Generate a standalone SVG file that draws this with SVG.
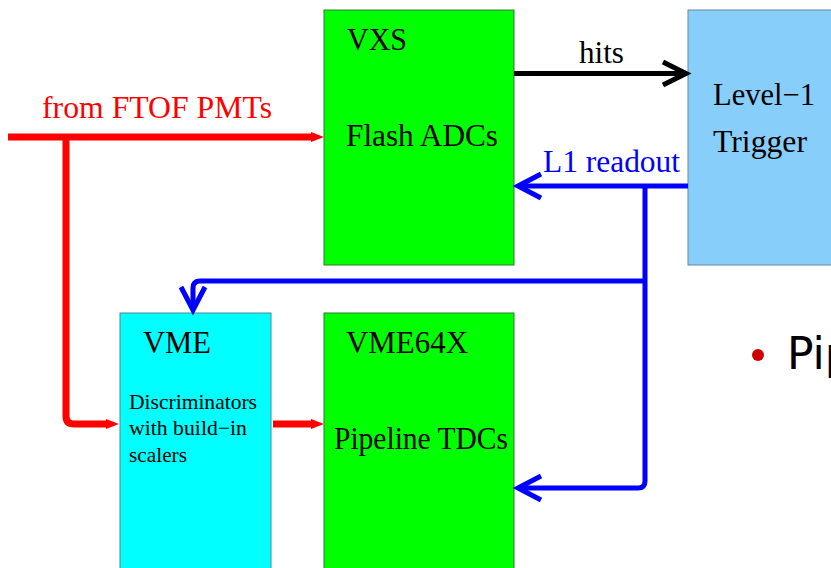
<svg xmlns="http://www.w3.org/2000/svg" width="831" height="568" viewBox="0 0 831 568">
<style>
  .t { font-family: "Liberation Serif", "Times New Roman", serif; font-size: 31px; fill: #000; }
  .s { font-family: "Liberation Serif", "Times New Roman", serif; font-size: 21px; fill: #000; }
  .green { fill: #00ff00; stroke: #2e7a2e; stroke-width: 1; }
  .cyan { fill: #00ffff; stroke: #4a8796; stroke-width: 1; }
  .lblue { fill: #87cefa; stroke: #6b8797; stroke-width: 1; }
  .red { fill: none; stroke: #ff0000; stroke-width: 7; }
  .blue { fill: none; stroke: #0000ff; stroke-width: 5; }
  .black { fill: none; stroke: #000; stroke-width: 5; }
</style>
<defs>
  <marker id="chevBlue" markerUnits="userSpaceOnUse" markerWidth="40" markerHeight="40" refX="0" refY="0" orient="auto" overflow="visible">
    <path d="M-23,-12 L0,0 L-23,12" fill="none" stroke="#0000ff" stroke-width="5" stroke-linejoin="miter"/>
  </marker>
  <marker id="chevBlack" markerUnits="userSpaceOnUse" markerWidth="40" markerHeight="40" refX="0" refY="0" orient="auto" overflow="visible">
    <path d="M-23,-11.5 L0,0 L-23,11.5" fill="none" stroke="#000" stroke-width="5" stroke-linejoin="miter"/>
  </marker>
  <marker id="arrRed" markerUnits="userSpaceOnUse" markerWidth="20" markerHeight="20" refX="0" refY="0" orient="auto" overflow="visible">
    <path d="M-1,-5 L12,0 L-1,5 Z" fill="#ff0000"/>
  </marker>
</defs>

<g id="node-vxs">
  <rect class="green" x="324" y="10" width="190" height="255"/>
  <text class="t" x="347" y="50" textLength="60" lengthAdjust="spacingAndGlyphs">VXS</text>
  <text class="t" x="346" y="146" textLength="152" lengthAdjust="spacingAndGlyphs">Flash ADCs</text>
</g>
<g id="node-level1">
  <rect class="lblue" x="688" y="10" width="160" height="255"/>
  <text class="t" x="713" y="105" textLength="102" lengthAdjust="spacingAndGlyphs">Level−1</text>
  <text class="t" x="713" y="152" textLength="94" lengthAdjust="spacingAndGlyphs">Trigger</text>
</g>
<g id="node-vme">
  <rect class="cyan" x="120" y="313" width="151" height="270"/>
  <text class="t" x="143" y="353" textLength="68" lengthAdjust="spacingAndGlyphs">VME</text>
  <text class="s" x="129" y="409" textLength="128" lengthAdjust="spacingAndGlyphs">Discriminators</text>
  <text class="s" x="129" y="435" textLength="118" lengthAdjust="spacingAndGlyphs">with build−in</text>
  <text class="s" x="129" y="462" textLength="58" lengthAdjust="spacingAndGlyphs">scalers</text>
</g>
<g id="node-vme64x">
  <rect class="green" x="324" y="313" width="190" height="270"/>
  <text class="t" x="346" y="353" textLength="122" lengthAdjust="spacingAndGlyphs">VME64X</text>
  <text class="t" x="334" y="449" textLength="174" lengthAdjust="spacingAndGlyphs">Pipeline TDCs</text>
</g>

<g id="connectors">
  <path class="red" d="M8,137 H312" marker-end="url(#arrRed)"/>
  <path class="red" d="M66,137 V416 Q66,424 74,424 H107" marker-end="url(#arrRed)"/>
  <path class="red" d="M273,424 H312" marker-end="url(#arrRed)"/>
  <path class="black" d="M514,73.5 H686" marker-end="url(#chevBlack)"/>
  <path class="blue" d="M688,186 H518" marker-end="url(#chevBlue)"/>
  <path class="blue" d="M645,186 V481 Q645,488 638,488 H518" marker-end="url(#chevBlue)"/>
  <path class="blue" d="M645,281 H200 Q193,281 193,288 V310" marker-end="url(#chevBlue)"/>
  <text class="t" x="42" y="118" textLength="230" lengthAdjust="spacingAndGlyphs" style="fill:#ff0000">from FTOF PMTs</text>
  <text class="t" x="579" y="63" textLength="45" lengthAdjust="spacingAndGlyphs">hits</text>
  <text class="t" x="543" y="172" textLength="137" lengthAdjust="spacingAndGlyphs" style="fill:#0000ff">L1 readout</text>
</g>

<circle cx="758" cy="355" r="6" fill="#cc0000"/>
<text x="787" y="369" style="font-family: 'DejaVu Sans', sans-serif; font-size: 44px; fill:#000">Pip</text>
</svg>
